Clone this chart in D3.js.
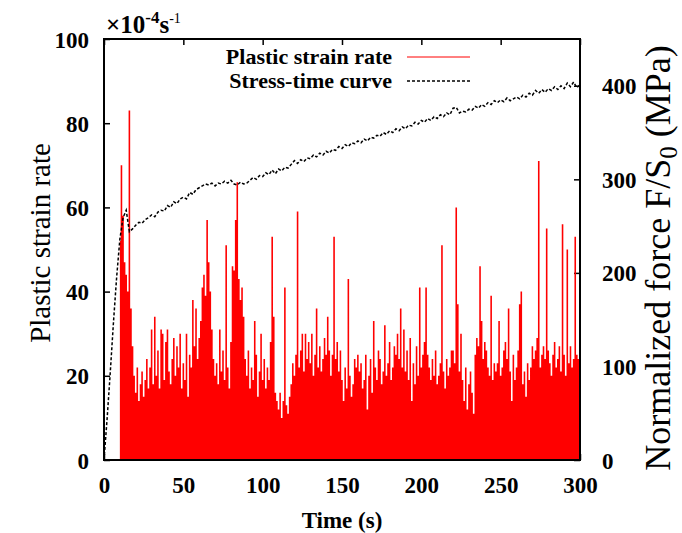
<!DOCTYPE html>
<html lang="en">
<head>
<meta charset="UTF-8">
<title>Plastic strain rate and stress-time curve</title>
<script src="https://d3js.org/d3.v7.min.js"></script>
<style>
  body { margin: 0; background: #fff; }
  svg text { font-family: "Liberation Serif", "Times New Roman", serif; fill: #000; }
  .axis .tick text { font-size: 23px; font-weight: bold; }
  .axis .tick line { stroke: #000; stroke-width: 1.5px; }
</style>
</head>
<body>
<div id="chart"></div>
<script>
// plastic strain rate (x10^-4 s^-1), one sample per second starting at t = 10 s
const rateStart = 10;
const rateValues = [
  52, 70, 58, 47, 44, 40, 83, 36, 27, 20,
  16, 22, 14, 18, 21, 15, 19, 24, 17, 22,
  31, 18, 34, 20, 26, 17, 31, 30, 19, 28,
  31, 21, 18, 24, 29, 20, 27, 22, 30, 17,
  23, 19, 30, 15, 25, 22, 38, 27, 36, 24,
  29, 33, 41, 44, 39, 57, 47, 40, 31, 24,
  20, 23, 18, 31, 21, 26, 19, 51, 22, 17,
  28, 46, 45, 57, 66, 43, 38, 41, 34, 24,
  20, 26, 17, 22, 19, 33, 25, 15, 21, 30,
  19, 24, 17, 22, 19, 28, 53, 34, 16, 14,
  12, 16, 10, 14, 41, 13, 11, 15, 18, 23,
  20, 25, 59, 22, 26, 30, 21, 30, 24, 28,
  23, 30, 20, 25, 36, 22, 27, 21, 24, 29,
  25, 34, 26, 20, 25, 53, 24, 28, 21, 26,
  19, 14, 22, 17, 43, 20, 15, 18, 24, 22,
  25, 21, 23, 17, 19, 25, 12, 20, 24, 16,
  33, 22, 19, 26, 24, 18, 21, 32, 20, 23,
  28, 19, 22, 27, 25, 30, 24, 36, 22, 31,
  21, 26, 19, 29, 14, 23, 18, 27, 20, 41,
  22, 25, 28, 41, 25, 22, 19, 24, 20, 26,
  18, 20, 23, 51, 21, 17, 24, 20, 22, 26,
  26, 23, 60, 37, 21, 30, 19, 14, 22, 12,
  18, 21, 16, 11, 25, 29, 27, 46, 33, 24,
  28, 26, 22, 20, 39, 19, 23, 21, 23, 33,
  20, 22, 26, 28, 24, 36, 21, 14, 25, 19,
  22, 26, 37, 40, 18, 21, 15, 23, 19, 22,
  27, 24, 26, 29, 71, 22, 25, 27, 24, 55,
  26, 23, 20, 25, 28, 22, 24, 27, 21, 56,
  25, 20, 50, 23, 27, 22, 24, 53, 25, 24,
  23
];
const rateTimes = rateValues.map((_, i) => rateStart + i);

// normalized force F/S0 (MPa), one sample every 2 s from t = 0
const stressStep = 2;
const stressValues = [
  0, 45, 95, 148, 196, 236, 259, 267, 244, 247,
  251, 254, 253, 257, 259, 262, 260, 265, 267, 266,
  272, 270, 276, 274, 279, 281, 279, 286, 284, 289,
  291, 293, 295, 294, 296, 293, 296, 295, 298, 296,
  299, 295, 294, 297, 295, 296, 299, 302, 300, 304,
  303, 307, 305, 310, 306, 311, 309, 313, 312, 316,
  320, 317, 321, 319, 323, 322, 326, 324, 328, 326,
  330, 328, 332, 331, 335, 333, 337, 335, 339, 338,
  341, 339, 343, 341, 345, 344, 347, 346, 350, 348,
  352, 350, 354, 352, 356, 354, 358, 357, 361, 359,
  363, 361, 365, 363, 367, 365, 369, 367, 371, 369,
  376, 377, 371, 373, 372, 375, 374, 378, 376, 380,
  378, 382, 380, 384, 382, 385, 383, 387, 384, 386,
  388, 386, 390, 388, 392, 390, 395, 392, 396, 393,
  397, 395, 399, 396, 400, 397, 403, 399, 404, 398,
  401
];
const stressTimes = stressValues.map((_, i) => i * stressStep);

const xTicks = [0, 50, 100, 150, 200, 250, 300];
const leftTicks = [0, 20, 40, 60, 80, 100];
const rightTicks = [0, 100, 200, 300, 400];

const W = 682, H = 533;
const margin = { top: 39, right: 102, bottom: 73, left: 104 };
const width = W - margin.left - margin.right;
const height = H - margin.top - margin.bottom;

const svg = d3.select("#chart").append("svg")
  .attr("width", W)
  .attr("height", H);

const g = svg.append("g")
  .attr("transform", `translate(${margin.left},${margin.top})`);

const x = d3.scaleLinear().domain([0, 300]).range([0, width]);
const yL = d3.scaleLinear().domain([0, 100]).range([height, 0]);
const yR = d3.scaleLinear().domain([0, 450]).range([height, 0]);

g.append("clipPath").attr("id", "plot-clip")
  .append("rect").attr("width", width).attr("height", height);

// axes with inward ticks
const xAxis = g.append("g").attr("class", "axis")
  .attr("transform", `translate(0,${height})`)
  .call(d3.axisBottom(x).tickValues(xTicks).tickSize(-6).tickPadding(17));
g.append("g").attr("class", "axis")
  .call(d3.axisTop(x).tickValues(xTicks).tickSize(-6).tickFormat(""));
g.append("g").attr("class", "axis")
  .call(d3.axisLeft(yL).tickValues(leftTicks).tickSize(-6).tickPadding(15));
g.append("g").attr("class", "axis")
  .attr("transform", `translate(${width},0)`)
  .call(d3.axisRight(yR).tickValues(rightTicks).tickSize(-6).tickPadding(22));
g.selectAll(".axis .domain").remove();
g.selectAll(".axis .tick text").attr("dy", "0.35em");
xAxis.selectAll(".tick text").attr("dy", "0.71em");

// strain rate impulses, drawn as one stepped area so neighbours touch
const rateArea = d3.area()
  .curve(d3.curveStep)
  .x(d => x(d.t))
  .y0(yL(0))
  .y1(d => yL(d.v));
g.append("path")
  .attr("clip-path", "url(#plot-clip)")
  .datum(rateTimes.map((t, i) => ({ t, v: rateValues[i] })))
  .attr("d", rateArea)
  .attr("fill", "#ff0000");

// stress-time curve
const line = d3.line()
  .x(d => x(d.t))
  .y(d => yR(d.v));
g.append("path")
  .datum(stressTimes.map((t, i) => ({ t, v: stressValues[i] })))
  .attr("d", line)
  .attr("fill", "none")
  .attr("stroke", "#000")
  .attr("stroke-width", 1.5)
  .attr("stroke-dasharray", "3,2");

// frame
g.append("rect")
  .attr("width", width)
  .attr("height", height)
  .attr("fill", "none")
  .attr("stroke", "#000")
  .attr("stroke-width", 2);

// legend
const legend = [
  { label: "Plastic strain rate", y: 64, color: "#ff0000", dash: null },
  { label: "Stress-time curve", y: 88, color: "#000", dash: "3,2" }
];
legend.forEach(d => {
  svg.append("text")
    .attr("x", 392).attr("y", d.y)
    .attr("text-anchor", "end")
    .style("font-size", "22px").style("font-weight", "bold")
    .text(d.label);
  svg.append("line")
    .attr("x1", 407).attr("x2", 470)
    .attr("y1", d.y - 7).attr("y2", d.y - 7)
    .attr("stroke", d.color)
    .attr("stroke-width", d.dash ? 1.5 : 1)
    .attr("stroke-dasharray", d.dash);
});

// unit label above left axis
const unit = svg.append("text")
  .attr("x", 106).attr("y", 33)
  .style("font-size", "25px").style("font-weight", "bold");
unit.append("tspan").text("\u00d710");
unit.append("tspan").attr("dy", -10).style("font-size", "17px").text("-4");
unit.append("tspan").attr("dy", 10).text("s");
unit.append("tspan").attr("dy", -10).style("font-size", "14px").style("font-weight", "normal").text("-1");

// axis titles
svg.append("text")
  .attr("x", margin.left + width / 2).attr("y", 528)
  .attr("text-anchor", "middle")
  .style("font-size", "23px").style("font-weight", "bold")
  .text("Time (s)");

svg.append("text")
  .attr("transform", "translate(50,243) rotate(-90)")
  .attr("text-anchor", "middle")
  .style("font-size", "29px")
  .text("Plastic strain rate");

const rTitle = svg.append("text")
  .attr("transform", "translate(670,258) rotate(-90)")
  .attr("text-anchor", "middle")
  .style("font-size", "36px");
rTitle.append("tspan").text("Normalized force F/S");
rTitle.append("tspan").attr("dy", 7).style("font-size", "25px").text("0");
rTitle.append("tspan").attr("dy", -7).text(" (MPa)");
</script>
</body>
</html>
